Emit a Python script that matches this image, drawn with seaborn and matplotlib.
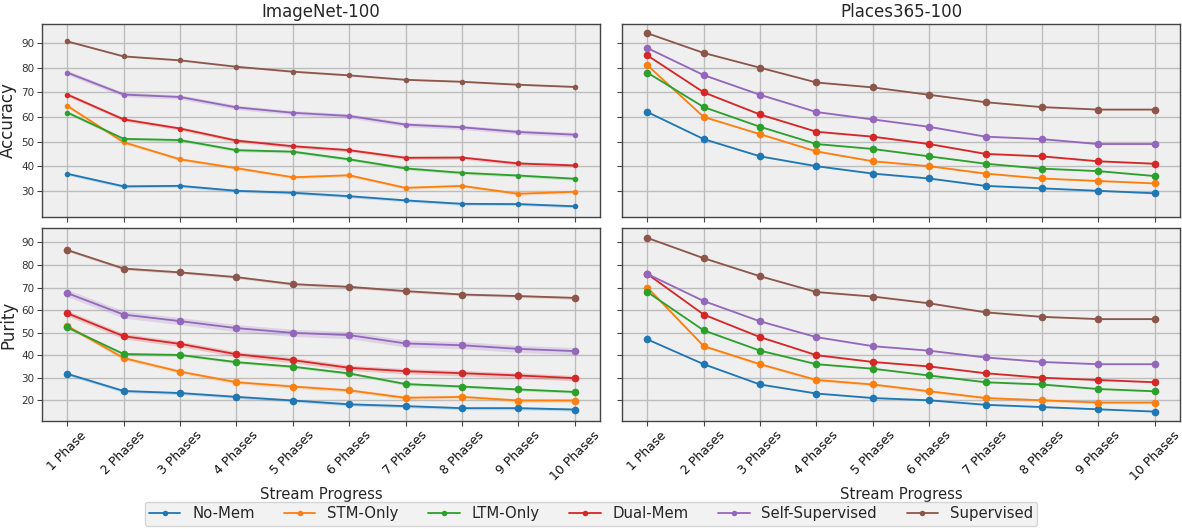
import numpy as np
import pandas as pd
import matplotlib
matplotlib.use("Agg")
import matplotlib.pyplot as plt
import seaborn as sns

PHASES = ["1 Phase"] + [f"{i} Phases" for i in range(2, 11)]
METHODS = ["No-Mem", "STM-Only", "LTM-Only", "Dual-Mem", "Self-Supervised", "Supervised"]
COLORS = ["#1f77b4", "#ff7f0e", "#2ca02c", "#d62728", "#9467bd", "#8c564b"]

# ImageNet-100, accuracy
IN_ACC_NOMEM = [36.9, 31.8, 32.0, 30.0, 29.2, 27.8, 26.1, 24.7, 24.6, 23.7]
IN_ACC_STM = [64.5, 49.7, 42.8, 39.2, 35.5, 36.3, 31.2, 32.0, 28.8, 29.6]
IN_ACC_LTM = [61.8, 51.1, 50.6, 46.5, 45.9, 42.8, 39.1, 37.3, 36.2, 34.9]
IN_ACC_DUAL = [69.1, 59.0, 55.3, 50.4, 48.1, 46.5, 43.4, 43.5, 41.1, 40.3]
IN_ACC_SELF = [78.0, 69.1, 68.1, 63.9, 61.7, 60.4, 56.9, 55.8, 53.9, 52.8]
IN_ACC_SUP = [90.7, 84.6, 83.0, 80.4, 78.4, 76.9, 75.1, 74.3, 73.1, 72.2]
IN_ACC_SD = [0.6, 0.6, 0.6, 0.7, 0.9, 0.3]

# Places365-100, accuracy
PL_ACC_NOMEM = [62, 51, 44, 40, 37, 35, 32, 31, 30, 29]
PL_ACC_STM = [81, 60, 53, 46, 42, 40, 37, 35, 34, 33]
PL_ACC_LTM = [78, 64, 56, 49, 47, 44, 41, 39, 38, 36]
PL_ACC_DUAL = [85, 70, 61, 54, 52, 49, 45, 44, 42, 41]
PL_ACC_SELF = [88, 77, 69, 62, 59, 56, 52, 51, 49, 49]
PL_ACC_SUP = [94, 86, 80, 74, 72, 69, 66, 64, 63, 63]
PL_ACC_SD = [0.3, 0.3, 0.2, 0.3, 0.3, 0.2]

# ImageNet-100, purity
IN_PUR_NOMEM = [31.7, 24.1, 23.2, 21.5, 19.9, 18.2, 17.4, 16.5, 16.5, 15.9]
IN_PUR_STM = [52.9, 38.7, 32.7, 28.0, 26.1, 24.4, 21.1, 21.5, 19.9, 19.9]
IN_PUR_LTM = [52.3, 40.5, 40.1, 36.9, 34.9, 31.9, 27.2, 26.1, 24.8, 23.7]
IN_PUR_DUAL = [58.6, 48.4, 45.0, 40.4, 37.8, 34.4, 32.9, 32.0, 31.0, 29.8]
IN_PUR_SELF = [67.5, 58.0, 55.1, 52.0, 49.9, 48.9, 45.2, 44.4, 42.8, 41.8]
IN_PUR_SUP = [86.6, 78.4, 76.7, 74.6, 71.5, 70.3, 68.4, 66.9, 66.2, 65.4]
IN_PUR_SD = [0.7, 0.8, 0.6, 1.2, 1.6, 0.6]

# Places365-100, purity
PL_PUR_NOMEM = [47, 36, 27, 23, 21, 20, 18, 17, 16, 15]
PL_PUR_STM = [70, 44, 36, 29, 27, 24, 21, 20, 19, 19]
PL_PUR_LTM = [68, 51, 42, 36, 34, 31, 28, 27, 25, 24]
PL_PUR_DUAL = [76, 58, 48, 40, 37, 35, 32, 30, 29, 28]
PL_PUR_SELF = [76, 64, 55, 48, 44, 42, 39, 37, 36, 36]
PL_PUR_SUP = [92, 83, 75, 68, 66, 63, 59, 57, 56, 56]
PL_PUR_SD = [0.3, 0.6, 0.3, 0.3, 0.3, 0.3]

PANELS = [
    ("ImageNet-100", "Accuracy", [IN_ACC_NOMEM, IN_ACC_STM, IN_ACC_LTM, IN_ACC_DUAL, IN_ACC_SELF, IN_ACC_SUP], IN_ACC_SD),
    ("Places365-100", "Accuracy", [PL_ACC_NOMEM, PL_ACC_STM, PL_ACC_LTM, PL_ACC_DUAL, PL_ACC_SELF, PL_ACC_SUP], PL_ACC_SD),
    ("ImageNet-100", "Purity", [IN_PUR_NOMEM, IN_PUR_STM, IN_PUR_LTM, IN_PUR_DUAL, IN_PUR_SELF, IN_PUR_SUP], IN_PUR_SD),
    ("Places365-100", "Purity", [PL_PUR_NOMEM, PL_PUR_STM, PL_PUR_LTM, PL_PUR_DUAL, PL_PUR_SELF, PL_PUR_SUP], PL_PUR_SD),
]

sns.set_theme(style="whitegrid")
plt.rcParams["font.family"] = ["DejaVu Sans"]
plt.rcParams["axes.facecolor"] = "#efefef"
plt.rcParams["axes.edgecolor"] = "#333333"
plt.rcParams["grid.color"] = "#bdbdbd"
plt.rcParams["grid.linewidth"] = 1.0

fig, axes = plt.subplots(2, 2, figsize=(11.82, 5.29), dpi=100, sharex=True, sharey="row")
fig.subplots_adjust(left=0.0355, right=0.9983, top=0.9546, bottom=0.2042, wspace=0.0395, hspace=0.062)

x = np.arange(len(PHASES))
for ax, (title, metric, series, sds) in zip(axes.flat, PANELS):
    for name, vals, sd, color in zip(METHODS, series, sds, COLORS):
        vals = np.array(vals, dtype=float)
        df = pd.DataFrame({"phase": x, "value": vals})
        sns.lineplot(data=df, x="phase", y="value", color=color, marker="o", markersize=5.5,
                     markeredgewidth=0, linewidth=1.3, label=name, legend=False, ax=ax)
        ax.fill_between(x, vals - sd, vals + sd, color=color, alpha=0.2, linewidth=0)
    for s in ax.spines.values():
        s.set_visible(True)
        s.set_color("#444444")
        s.set_linewidth(1.0)
    ax.tick_params(axis="both", which="both", length=3.5, width=0.8, color="#444444",
                   bottom=True, left=True)
    ax.tick_params(axis="y", labelsize=7.5, labelcolor="#333333", pad=2)
    ax.tick_params(axis="x", labelsize=9, labelcolor="#111111", pad=2)
    ax.set_xlabel("")
    ax.set_ylabel("")

axes[0, 0].set_title("ImageNet-100", fontsize=12, pad=5)
axes[0, 1].set_title("Places365-100", fontsize=12, pad=5)
axes[0, 0].set_ylabel("Accuracy", fontsize=12, labelpad=3)
axes[1, 0].set_ylabel("Purity", fontsize=12, labelpad=3)
axes[0, 0].set_yticks([30, 40, 50, 60, 70, 80, 90])
axes[1, 0].set_yticks([20, 30, 40, 50, 60, 70, 80, 90])
for ax in axes[1]:
    ax.set_xticks(x)
    ax.set_xticklabels(PHASES, rotation=45, ha="center")
    ax.set_xlabel("Stream Progress", fontsize=10.7, labelpad=3)

handles, labels = axes[0, 0].get_legend_handles_labels()
for h in handles:
    h.set_markersize(4)
fig.legend(handles, labels, loc="lower center", ncol=6, fontsize=10.7, frameon=True,
           bbox_to_anchor=(0.5, -0.008), handlelength=2.1, columnspacing=2.0,
           borderpad=0.3, edgecolor="#cccccc")

plt.savefig("out.png", dpi=100)
